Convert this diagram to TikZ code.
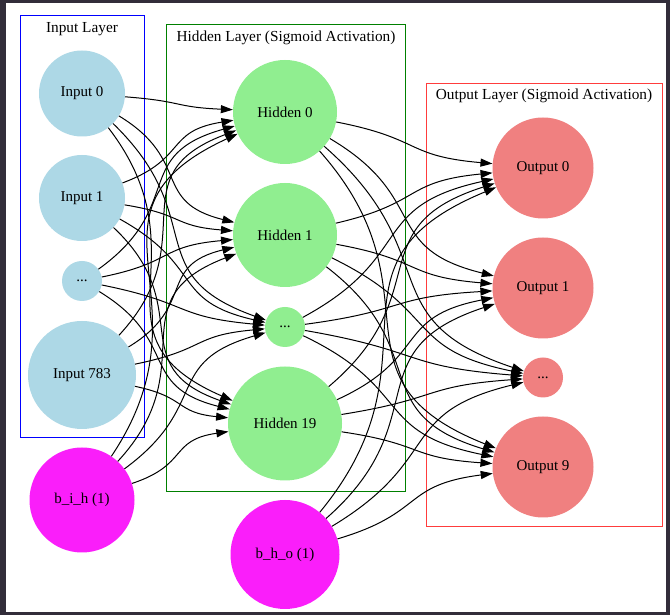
\documentclass[tikz,border=0pt]{standalone}
\usepackage{fontspec}
\setmainfont{Liberation Serif}
\usetikzlibrary{arrows.meta}
\definecolor{framec}{RGB}{50,45,58}
\definecolor{inblue}{HTML}{ADD8E6}
\definecolor{hidgreen}{HTML}{90EE90}
\definecolor{outred}{HTML}{F08080}
\definecolor{biasc}{RGB}{250,30,250}
\definecolor{boxgreen}{RGB}{0,128,0}
\definecolor{boxred}{RGB}{255,60,60}
\begin{document}
\begin{tikzpicture}[x=1pt,y=1pt,
  neuron/.style={circle, inner sep=0pt, draw=none, minimum size=#1, font=\fontsize{15}{18}\selectfont},
  layerbox/.style={line width=0.9pt},
  title/.style={font=\fontsize{15.3}{18}\selectfont, inner sep=0pt},
  edge/.style={-{Triangle[length=12pt,width=8pt]}, line width=1pt, black, looseness=1.4}]
\useasboundingbox (0,0) rectangle (670,615);
\fill[framec] (0,0) rectangle (670,615);
\fill[white] (6,3) rectangle (665.5,612);
% cluster boxes
\draw[layerbox, blue] (20,178) rectangle (144,600);
\draw[layerbox, boxgreen] (166,124) rectangle (405,591);
\draw[layerbox, boxred] (426,89) rectangle (662,532);
\node[title] (tin) at (82,586) {Input Layer};
\node[title] (thid) at (286,577) {Hidden Layer (Sigmoid Activation)};
\node[title] (tout) at (544,519) {Output Layer (Sigmoid Activation)};
% input layer
\node[neuron=86pt, fill=inblue] (in0) at (82,521.5) {Input 0};
\node[neuron=86pt, fill=inblue] (in1) at (82,417) {Input 1};
\node[neuron=40pt, fill=inblue] (ind) at (82,334) {...};
\node[neuron=108pt, fill=inblue] (in783) at (82,240) {Input 783};
\node[neuron=105pt, fill=biasc] (bih) at (82,115) {b\_i\_h (1)};
% hidden layer
\node[neuron=104pt, fill=hidgreen] (h0) at (285,503) {Hidden 0};
\node[neuron=104pt, fill=hidgreen] (h1) at (285,380) {Hidden 1};
\node[neuron=40pt, fill=hidgreen] (hd) at (285,288) {...};
\node[neuron=114pt, fill=hidgreen] (h19) at (285,191.5) {Hidden 19};
\node[neuron=109pt, fill=biasc] (bho) at (285,60.5) {b\_h\_o (1)};
% output layer
\node[neuron=101pt, fill=outred] (o0) at (543,447) {Output 0};
\node[neuron=101pt, fill=outred] (o1) at (543,327) {Output 1};
\node[neuron=40pt, fill=outred] (od) at (543,237.5) {...};
\node[neuron=101pt, fill=outred] (o9) at (543,148) {Output 9};
% edges input -> hidden
\foreach \s/\sy in {in0/521.5, in1/417, ind/334, in783/240, bih/115}{
  \foreach \t/\ty in {h0/503, h1/380, hd/288, h19/191.5}{
    \pgfmathsetmacro\al{atan2(\ty-\sy,203)}
    \pgfmathsetmacro\ao{0.9*\al}
    \pgfmathsetmacro\ai{180+0.4*\al}
    \draw[edge] (\s) to[out=\ao, in=\ai] (\t);
  }
}
% edges hidden -> output
\foreach \s/\sy in {h0/503, h1/380, hd/288, h19/191.5, bho/60.5}{
  \foreach \t/\ty in {o0/447, o1/327, od/237.5, o9/148}{
    \pgfmathsetmacro\al{atan2(\ty-\sy,258)}
    \pgfmathsetmacro\ao{0.9*\al}
    \pgfmathsetmacro\ai{180+0.4*\al}
    \draw[edge] (\s) to[out=\ao, in=\ai] (\t);
  }
}
\end{tikzpicture}
\end{document}
